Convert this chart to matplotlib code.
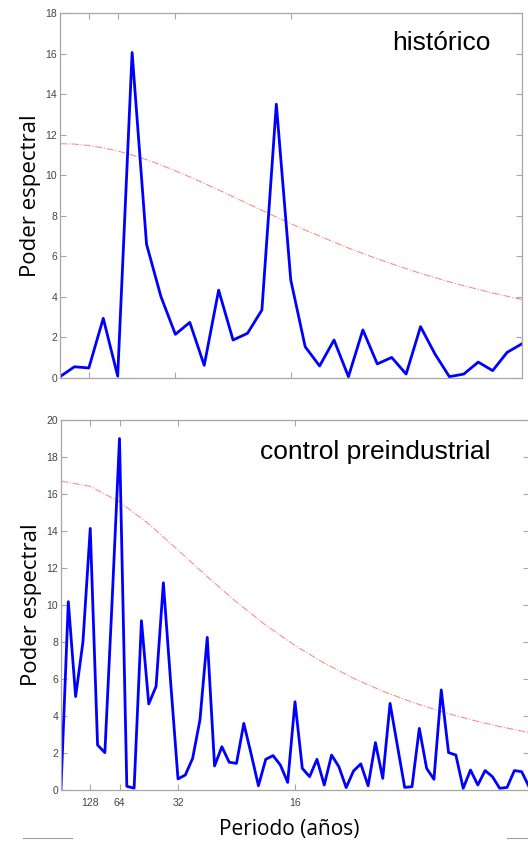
import matplotlib.pyplot as plt
import numpy as np
from matplotlib.lines import Line2D

# espectro historico (paso de frecuencia 1/256 ciclos/año)
power_hist = [0.05, 0.54, 0.48, 2.93, 0.08, 16.05, 6.59, 4.0, 2.14, 2.73,
              0.61, 4.32, 1.86, 2.19, 3.34, 13.5, 4.83, 1.53, 0.58, 1.86,
              0.05, 2.36, 0.68, 1.0, 0.18, 2.52, 1.17, 0.05, 0.18, 0.77,
              0.35, 1.25, 1.66]
red_hist = [11.55, 11.53, 11.46, 11.34, 11.19, 10.99, 10.76, 10.50, 10.21, 9.91,
            9.59, 9.27, 8.93, 8.60, 8.26, 7.93, 7.61, 7.29, 6.99, 6.69,
            6.40, 6.13, 5.87, 5.62, 5.38, 5.15, 4.94, 4.73, 4.54, 4.36,
            4.18, 4.02, 3.86]

# control preindustrial (paso 1/512)
power_ctrl = [0.08, 10.18, 5.05, 8.0, 14.14, 2.43, 2.02, 10.3, 19.0, 0.2,
              0.1, 9.15, 4.65, 5.6, 11.2, 5.8, 0.6, 0.81, 1.71, 3.78,
              8.25, 1.3, 2.34, 1.5, 1.44, 3.6, 1.95, 0.23, 1.66, 1.86,
              1.35, 0.41, 4.77, 1.17, 0.72, 1.66, 0.27, 1.89, 1.26, 0.13,
              1.03, 1.41, 0.23, 2.56, 0.63, 4.68, 2.4, 0.14, 0.18, 3.33,
              1.17, 0.58, 5.41, 2.02, 1.89, 0.09, 1.08, 0.27, 1.05, 0.72,
              0.09, 0.14, 1.05, 0.99, 0.18]
red_ctrl = [16.70, 16.41, 15.58, 14.38, 12.97, 11.53, 10.16, 8.91, 7.81,
            6.86, 6.04, 5.34, 4.75, 4.24, 3.80, 3.43, 3.11]

period_ticks = [128, 64, 32, 16]

f_hist = np.arange(len(power_hist)) / 256
f_ctrl = np.arange(len(power_ctrl)) / 512
f_red_ctrl = np.arange(len(red_ctrl)) * 4 / 512

W, H = 528, 843
fig = plt.figure(figsize=(W / 100, H / 100), dpi=100)

ax1 = fig.add_axes([60 / W, 1 - 377.7 / H, 461.5 / W, 364.7 / H])
ax2 = fig.add_axes([61 / W, 1 - 790 / H, 468 / W, 370 / H])

spine_c = '#a6a6a6'
for ax, ymax in [(ax1, 18), (ax2, 20)]:
    ax.set_xlim(0, 0.125)
    ax.set_ylim(0, ymax)
    ax.set_yticks(range(0, ymax + 1, 2))
    ax.set_xticks([1 / p for p in period_ticks])
    ax.tick_params(direction='in', top=True, right=True, length=4,
                   width=0.8, color=spine_c, labelcolor='#444444',
                   labelsize=7.5, pad=2)
    ax.tick_params(axis='x', pad=6)
    for s in ax.spines.values():
        s.set_color(spine_c)
        s.set_linewidth(0.9)
    for lab in ax.get_yticklabels() + ax.get_xticklabels():
        lab.set_family('Liberation Sans')
    ax.set_ylabel('Poder espectral', family='Open Sans', fontsize=16,
                  labelpad=3)

ax1.set_xticklabels([])
ax2.set_xticklabels([str(p) for p in period_ticks])

ax1.plot(f_hist, red_hist, color='#ff8c8c', lw=0.8, ls='-.')
ax1.plot(f_hist, power_hist, color='#0000ff', lw=2.0)
ax2.plot(f_red_ctrl, red_ctrl, color='#ff8c8c', lw=0.8, ls='-.')
ax2.plot(f_ctrl, power_ctrl, color='#0000ff', lw=2.0)

ax1.text(0.932, 0.918, 'histórico', transform=ax1.transAxes, ha='right',
         va='center', fontsize=19, family='Liberation Sans')
ax2.text(0.917, 0.914, 'control preindustrial', transform=ax2.transAxes,
         ha='right', va='center', fontsize=19, family='Liberation Sans')

fig.text(289 / W, 1 - 830 / H, 'Periodo (años)', ha='center', va='center',
         fontsize=15, family='Open Sans')

fig.add_artist(Line2D([23 / W, 72 / W], [1 - 838 / H] * 2, color='#a0a0a0',
                      lw=0.8, transform=fig.transFigure))
fig.add_artist(Line2D([507 / W, 1], [1 - 838 / H] * 2, color='#a0a0a0',
                      lw=0.8, transform=fig.transFigure))

fig.savefig('out.png', dpi=100)
